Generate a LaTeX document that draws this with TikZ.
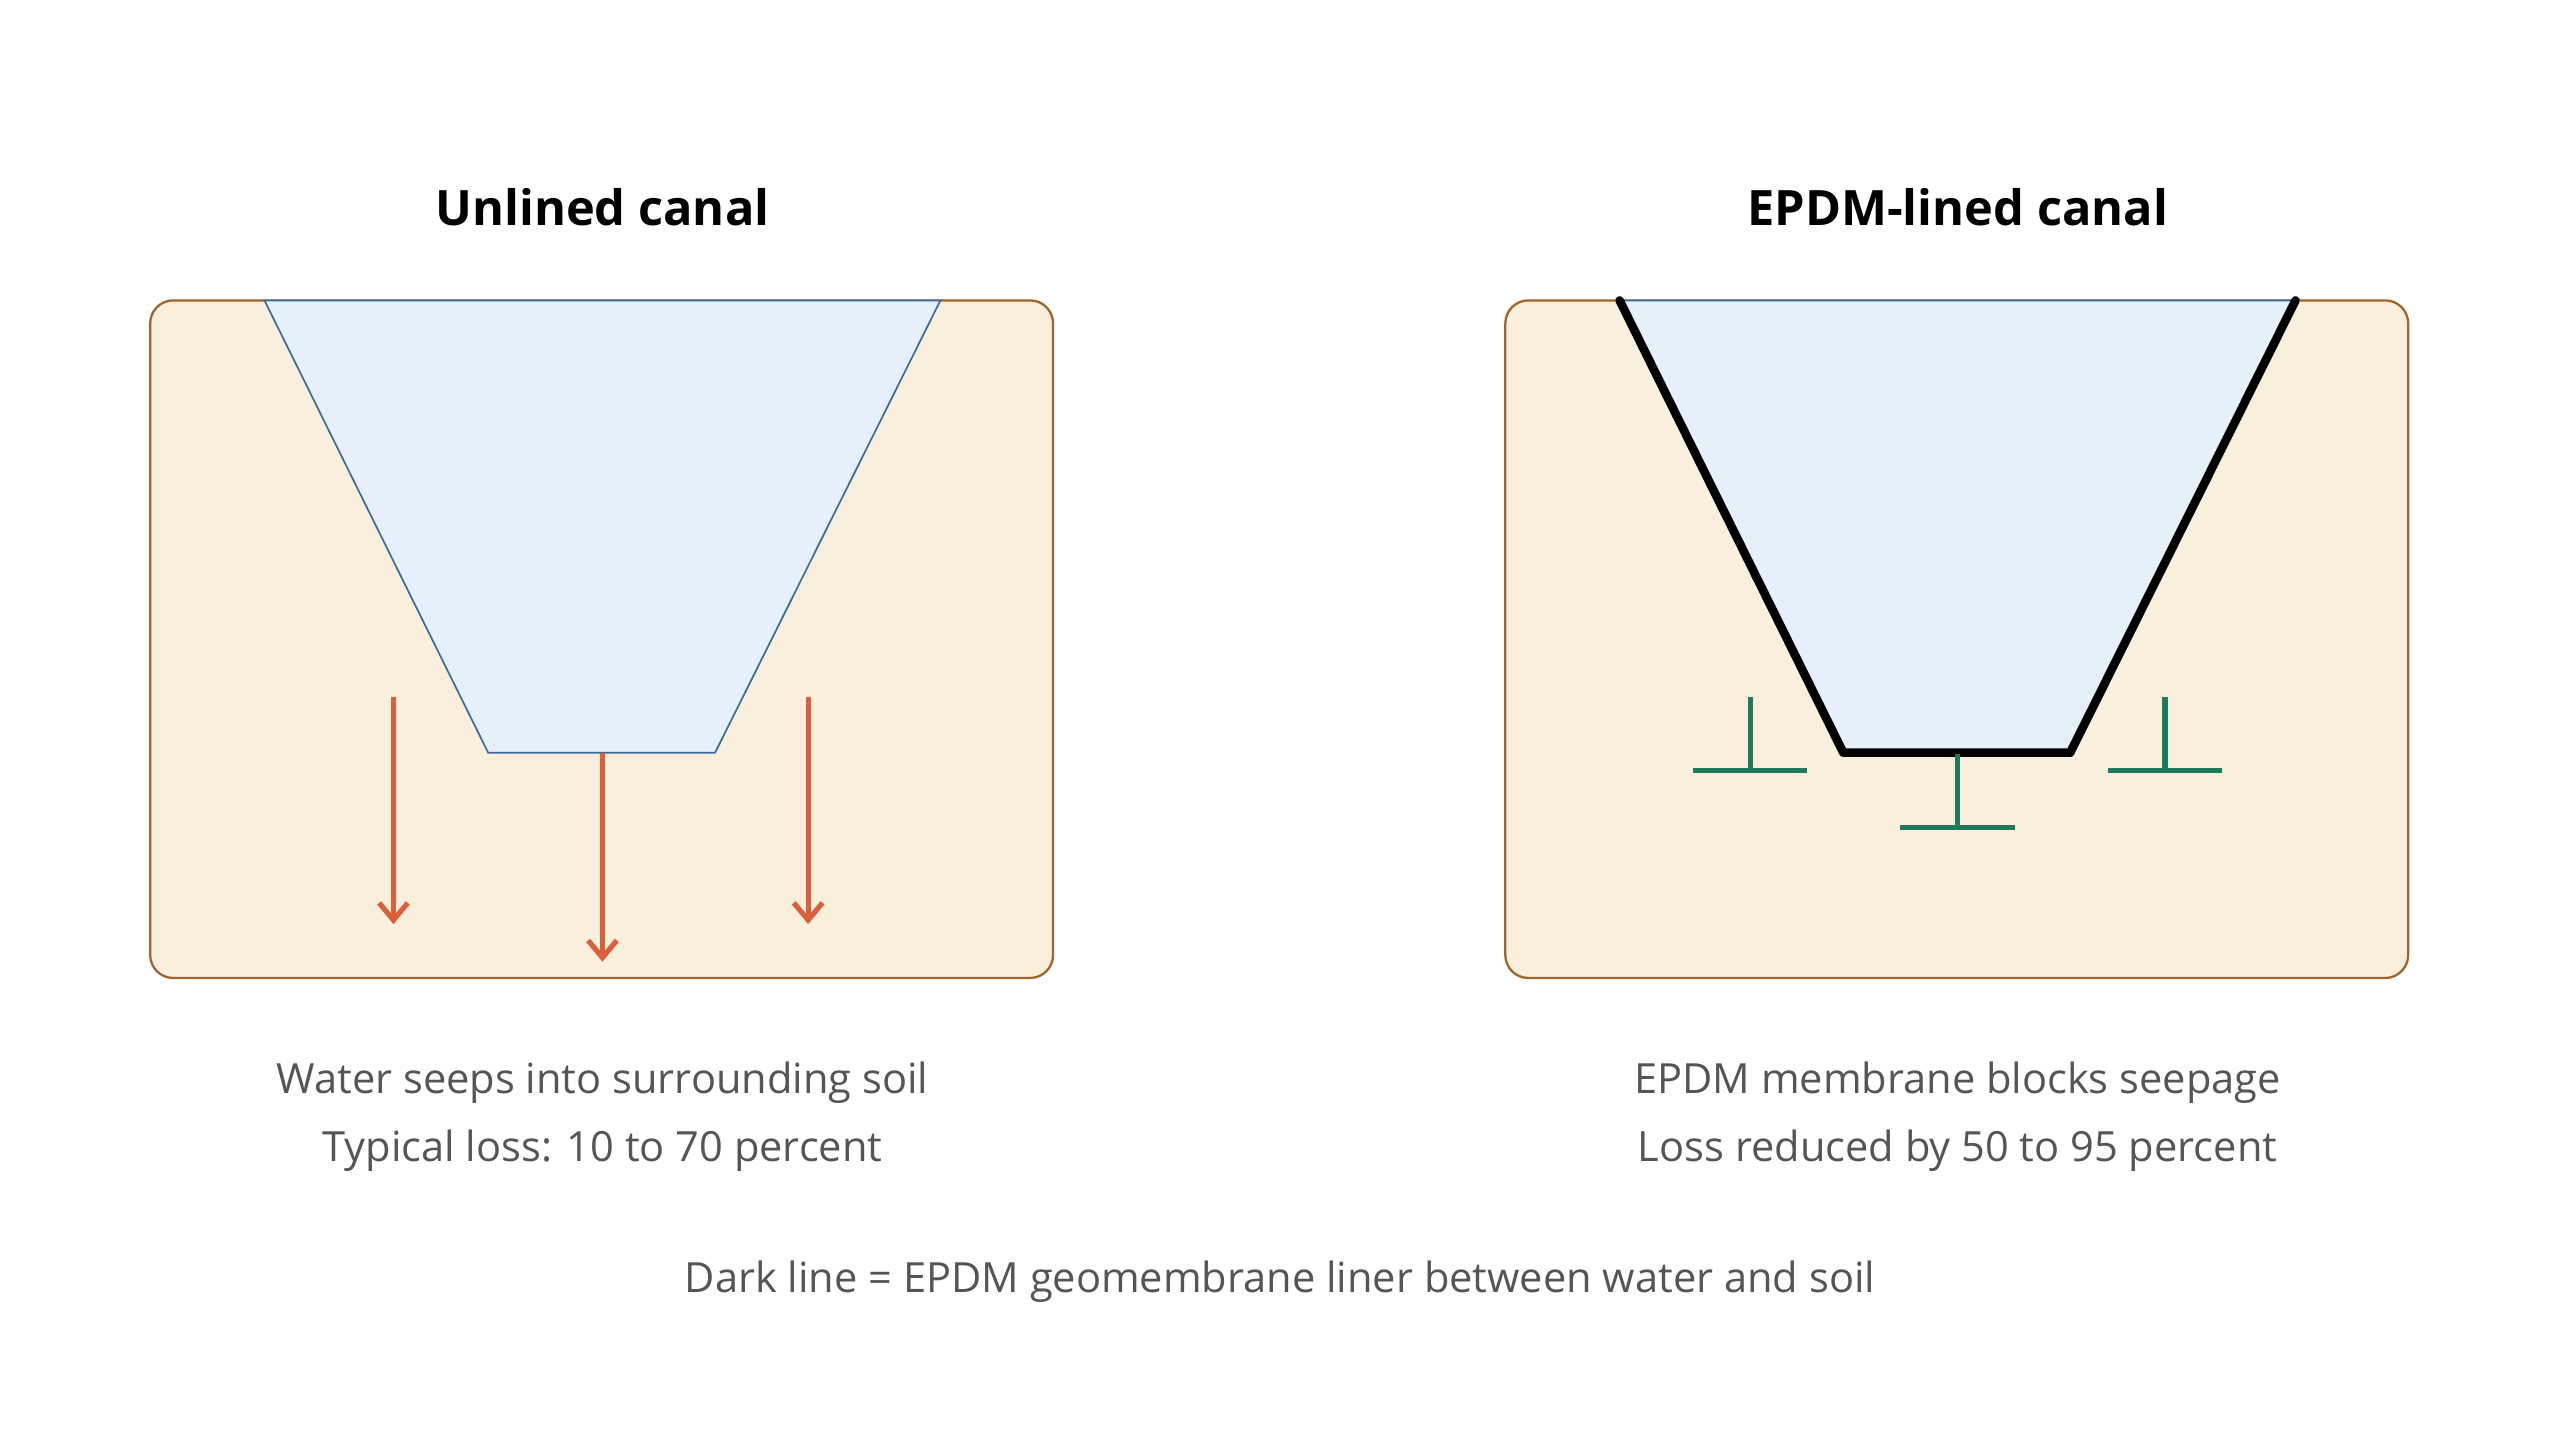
\documentclass[tikz,border=0pt]{standalone}
\usepackage{fontspec}
\setmainfont{Open Sans}
\usetikzlibrary{arrows.meta}
\definecolor{soil}{HTML}{FAEEDD}
\definecolor{soilline}{HTML}{A0652A}
\definecolor{water}{HTML}{E6F0FA}
\definecolor{waterline}{HTML}{3A6E9A}
\definecolor{seep}{HTML}{D9603A}
\definecolor{stop}{HTML}{1E7A5A}
\definecolor{note}{HTML}{555555}
\begin{document}
\begin{tikzpicture}[x=0.02cm,y=-0.02cm]
	\tikzstyle{box}=[draw=soilline,fill=soil,line width=0.8pt,rounded corners=8pt]
	\tikzstyle{pool}=[draw=waterline,fill=water,line width=0.6pt]
	\tikzstyle{arrow1}=[-{Straight Barb[length=6pt,width=10pt]},draw=seep,line width=1.8pt]
	\tikzstyle{liner}=[draw=black,line width=3pt,line cap=round,line join=round]
	\tikzstyle{simple}=[-,draw=stop,line width=1.8pt]
	\tikzstyle{title}=[font=\bfseries\fontsize{17}{20}\selectfont]
	\tikzstyle{caption}=[text=note,font=\fontsize{14.5}{18}\selectfont]
	\useasboundingbox (0,0) rectangle (1568,876);

	% unlined canal
	\draw [style=box] (92,184) rectangle (645,599);
	\coordinate (a1) at (162,184);
	\coordinate (a2) at (576,184);
	\coordinate (a3) at (438,461);
	\coordinate (a4) at (299,461);
	\draw [style=pool] (a1) -- (a2) -- (a3) -- (a4) -- cycle;
	\coordinate (s1) at (241,427);
	\coordinate (e1) at (241,566);
	\coordinate (s2) at (369,461);
	\coordinate (e2) at (369,589);
	\coordinate (s3) at (495,427);
	\coordinate (e3) at (495,566);
	\draw [style=arrow1] (s1) to (e1);
	\draw [style=arrow1] (s2) to (e2);
	\draw [style=arrow1] (s3) to (e3);
	\node [style=title] (t1) at (369,127) {Unlined canal};
	\node [style=caption] (c1) at (369,663) {Water seeps into surrounding soil};
	\node [style=caption] (c2) at (369,705) {Typical loss: 10 to 70 percent};

	% lined canal
	\draw [style=box] (922,184) rectangle (1475,599);
	\coordinate (b1) at (992,184);
	\coordinate (b2) at (1406,184);
	\coordinate (b3) at (1268,461);
	\coordinate (b4) at (1129,461);
	\draw [style=pool] (b1) -- (b2) -- (b3) -- (b4) -- cycle;
	\draw [style=liner] (b1) -- (b4) -- (b3) -- (b2);
	\foreach \x/\y in {1072/472,1199/507,1326/472} {
		\draw [style=simple] (\x-35,\y) -- (\x+35,\y);
		\draw [style=simple] (\x,\y) -- (\x,\y-45);
	}
	\node [style=title] (t2) at (1199,127) {EPDM-lined canal};
	\node [style=caption] (c3) at (1199,663) {EPDM membrane blocks seepage};
	\node [style=caption] (c4) at (1199,705) {Loss reduced by 50 to 95 percent};

	\node [style=caption] (c5) at (784,785) {Dark line = EPDM geomembrane liner between water and soil};
\end{tikzpicture}
\end{document}
